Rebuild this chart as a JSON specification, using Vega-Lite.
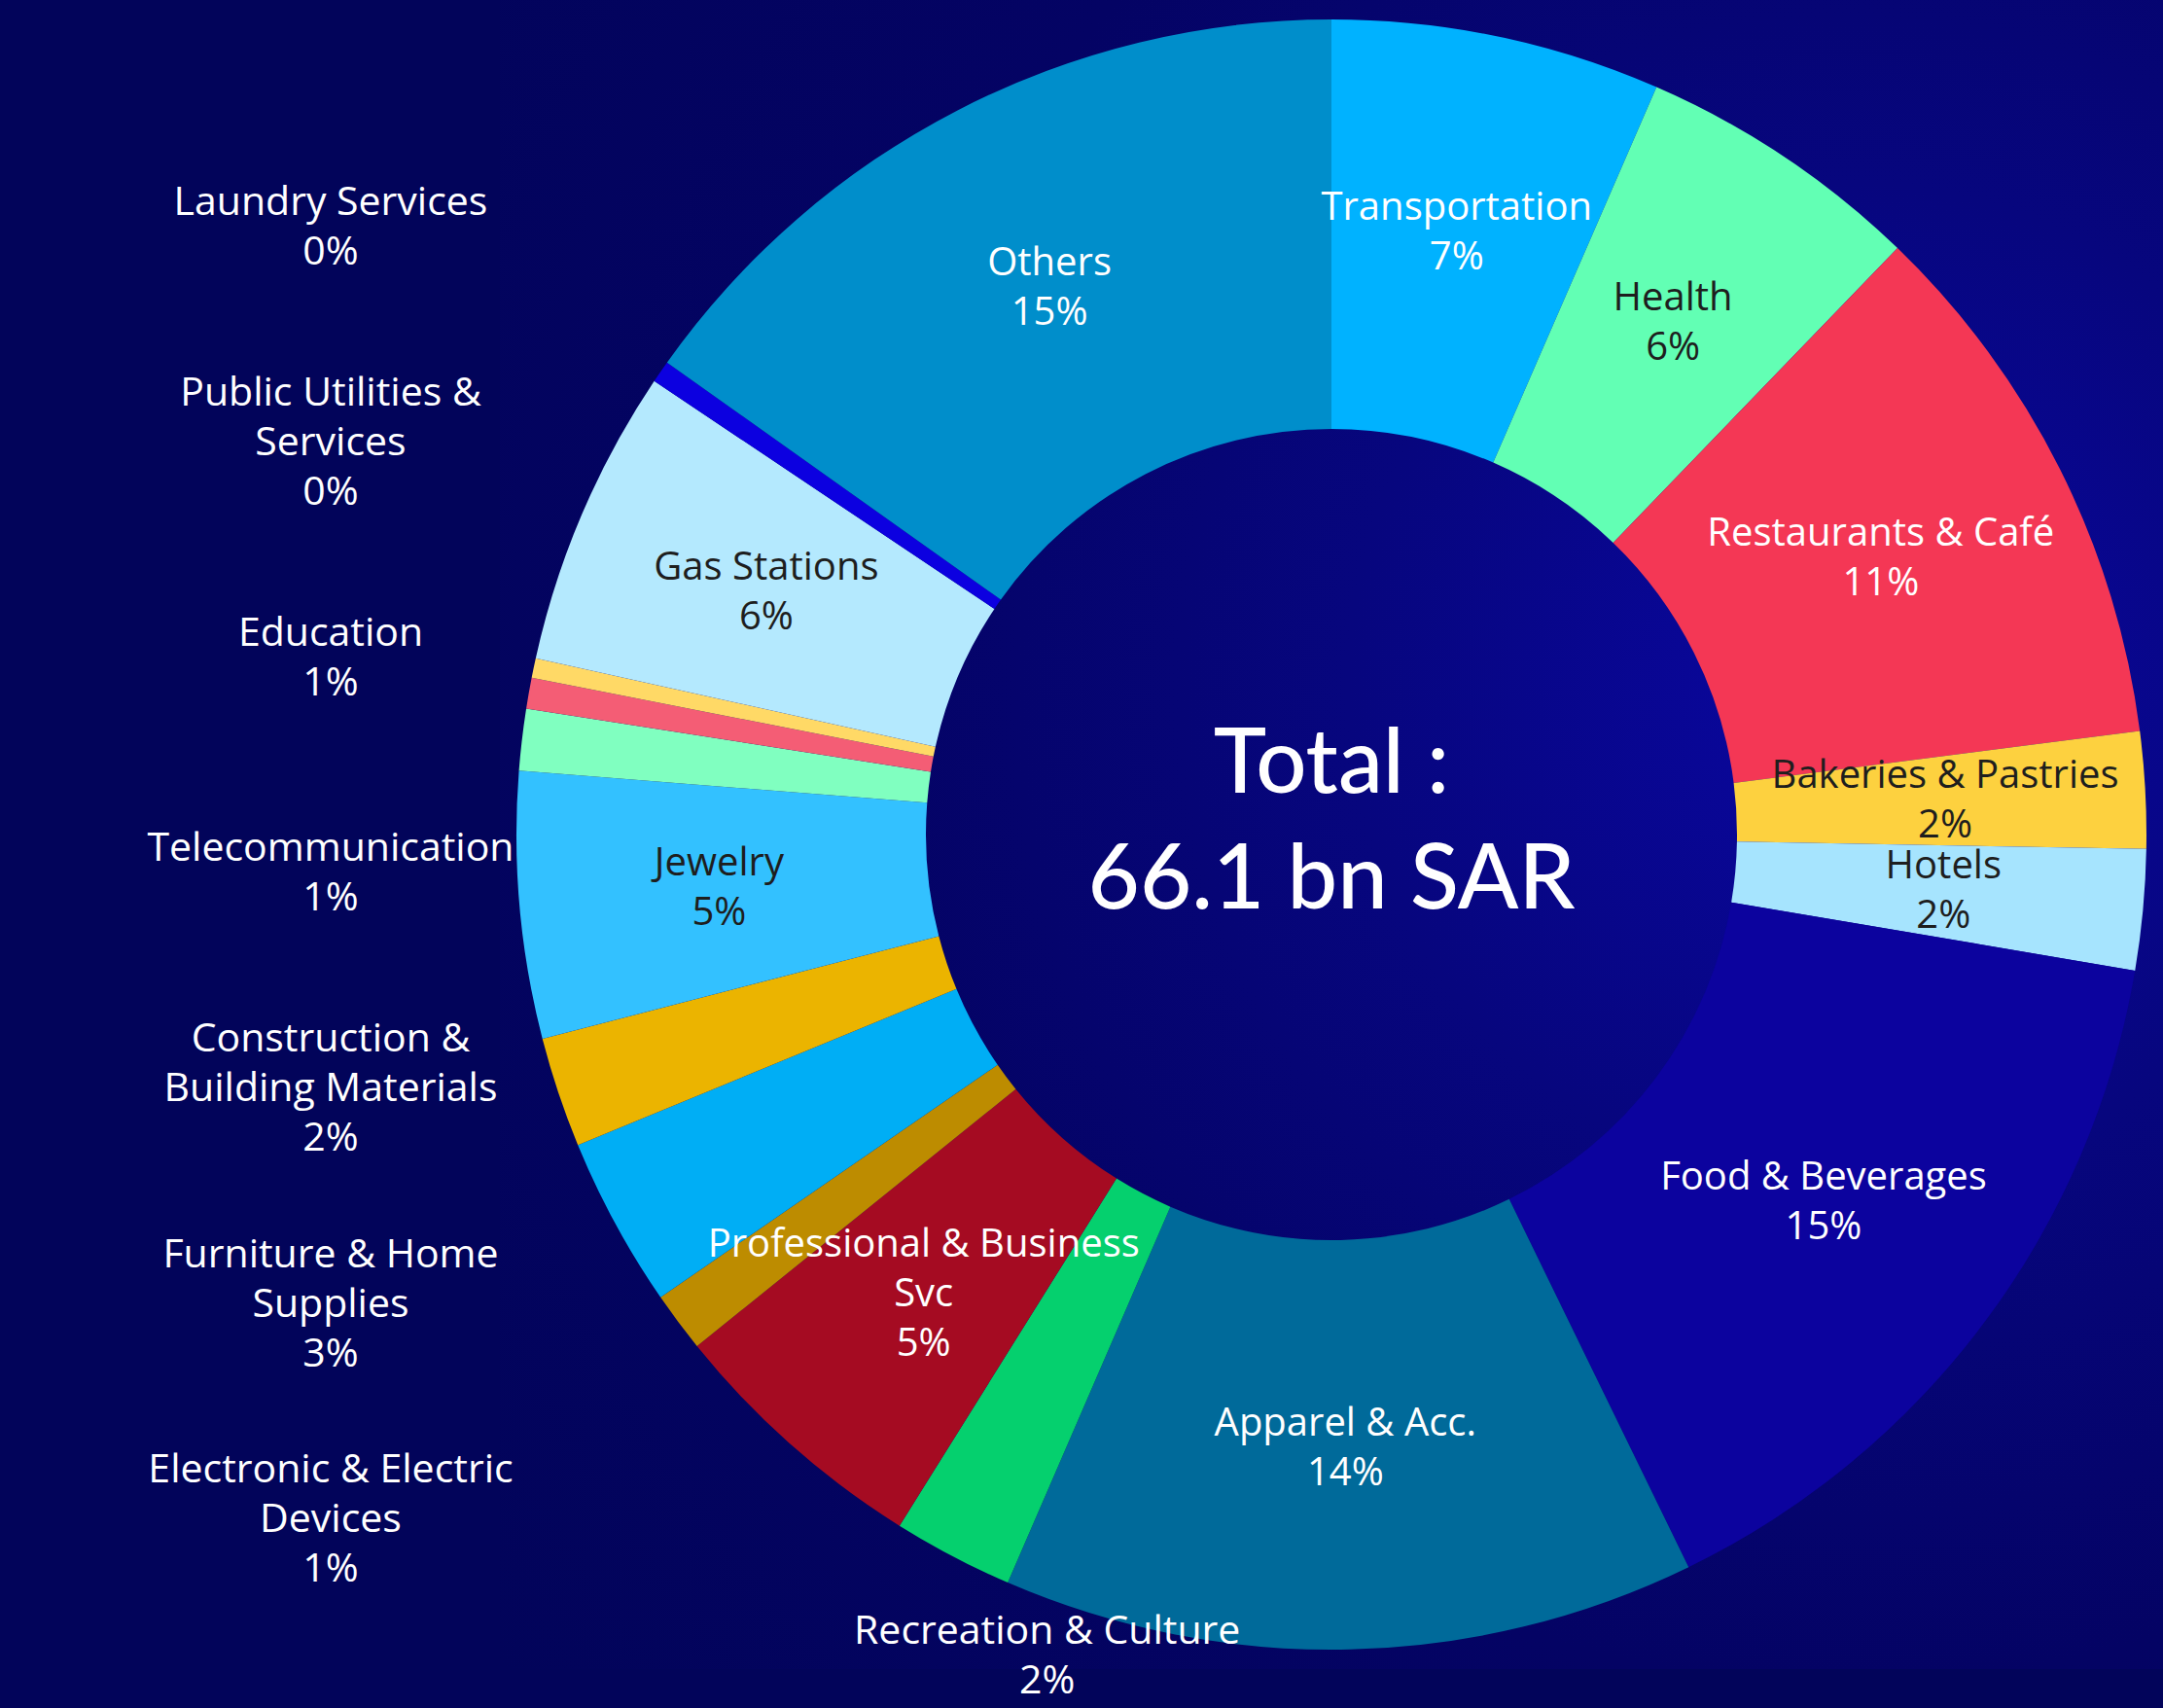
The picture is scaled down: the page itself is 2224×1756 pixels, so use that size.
{
  "$schema": "https://vega.github.io/schema/vega-lite/v6.json",
  "width": 1710,
  "height": 1716,
  "autosize": {"type": "none"},
  "padding": {"left": 514, "top": 0, "right": 0, "bottom": 40},
  "background": "#02045a",
  "view": {
    "stroke": null,
    "fill": {
      "gradient": "radial",
      "x1": 0.81, "y1": 0.41, "r1": 0,
      "x2": 0.81, "y2": 0.41, "r2": 1.0,
      "stops": [
        {"offset": 0, "color": "#0a07a0"},
        {"offset": 0.3, "color": "#07067e"},
        {"offset": 0.6, "color": "#040364"},
        {"offset": 1, "color": "#02045a"}
      ]
    }
  },
  "config": {"font": "Open Sans"},
  "datasets": {
    "sectors": [
      {"ord": 1, "name": "Transportation", "share": 6.53, "label": "Transportation\n7%"},
      {"ord": 2, "name": "Health", "share": 5.69, "label": "Health\n6%"},
      {"ord": 3, "name": "Restaurants & Café", "share": 10.75, "label": "Restaurants & Café\n11%"},
      {"ord": 4, "name": "Bakeries & Pastries", "share": 2.31, "label": "Bakeries & Pastries\n2%"},
      {"ord": 5, "name": "Hotels", "share": 2.39, "label": "Hotels\n2%"},
      {"ord": 6, "name": "Food & Beverages", "share": 15.11, "label": "Food & Beverages\n15%"},
      {"ord": 7, "name": "Apparel & Acc.", "share": 13.72, "label": "Apparel & Acc.\n14%"},
      {"ord": 8, "name": "Recreation & Culture", "share": 2.39, "label": "Recreation & Culture\n2%"},
      {"ord": 9, "name": "Professional & Business Svc", "share": 5.31, "label": "Professional & Business\nSvc\n5%"},
      {"ord": 10, "name": "Electronic & Electric Devices", "share": 1.19, "label": "Electronic & Electric\nDevices\n1%"},
      {"ord": 11, "name": "Furniture & Home Supplies", "share": 3.39, "label": "Furniture & Home\nSupplies\n3%"},
      {"ord": 12, "name": "Construction & Building Materials", "share": 2.19, "label": "Construction &\nBuilding Materials\n2%"},
      {"ord": 13, "name": "Jewelry", "share": 5.28, "label": "Jewelry\n5%"},
      {"ord": 14, "name": "Telecommunication", "share": 1.22, "label": "Telecommunication\n1%"},
      {"ord": 15, "name": "Education", "share": 0.61, "label": "Education\n1%"},
      {"ord": 16, "name": "Public Utilities & Services", "share": 0.39, "label": "Public Utilities &\nServices\n0%"},
      {"ord": 17, "name": "Gas Stations", "share": 5.92, "label": "Gas Stations\n6%"},
      {"ord": 18, "name": "Laundry Services", "share": 0.44, "label": "Laundry Services\n0%"},
      {"ord": 19, "name": "Others", "share": 15.17, "label": "Others\n15%"}
    ],
    "total": [{"label": "Total :\n66.1 bn SAR"}]
  },
  "layer": [
    {
      "data": {"name": "sectors"},
      "mark": {"type": "arc", "outerRadius": 838, "innerRadius": 417, "stroke": null},
      "encoding": {
        "theta": {"field": "share", "type": "quantitative", "stack": true},
        "order": {"field": "ord", "type": "quantitative"},
        "color": {
          "field": "name", "type": "nominal", "legend": null,
          "scale": {
            "domain": ["Transportation", "Health", "Restaurants & Café", "Bakeries & Pastries", "Hotels", "Food & Beverages", "Apparel & Acc.", "Recreation & Culture", "Professional & Business Svc", "Electronic & Electric Devices", "Furniture & Home Supplies", "Construction & Building Materials", "Jewelry", "Telecommunication", "Education", "Public Utilities & Services", "Gas Stations", "Laundry Services", "Others"],
            "range": ["#00b2ff", "#62ffb4", "#f43755", "#fdd13f", "#a6e4fe", "#0c039e", "#006a9a", "#05d06e", "#a50b22", "#bd8c00", "#00aef5", "#ebb400", "#33c1ff", "#80ffc0", "#f45d75", "#ffd966", "#b4e9fe", "#0c00e0", "#008ecb"]
          }
        }
      }
    },
    {
      "data": {"name": "sectors"},
      "mark": {"type": "text", "radius": 632, "fontSize": 40, "lineHeight": 51, "lineBreak": "\n", "align": "center", "baseline": "middle", "dy": {"expr": "-25.5 * (length(split(datum.label, '\\n')) - 1)"}},
      "encoding": {
        "theta": {"field": "share", "type": "quantitative", "stack": true},
        "order": {"field": "ord", "type": "quantitative"},
        "text": {
          "condition": {"test": "indexof(['Transportation','Health','Restaurants & Café','Bakeries & Pastries','Hotels','Food & Beverages','Apparel & Acc.','Professional & Business Svc','Jewelry','Gas Stations','Others'], datum.name) >= 0", "field": "label"},
          "value": ""
        },
        "color": {
          "condition": {"test": "indexof(['Health','Gas Stations','Jewelry','Bakeries & Pastries','Hotels'], datum.name) >= 0", "value": "#1e1e1e"},
          "value": "#ffffff"
        }
      }
    },
    {
      "data": {"name": "sectors"},
      "mark": {"type": "text", "radius": 960, "fontSize": 41, "lineHeight": 51, "lineBreak": "\n", "align": "center", "baseline": "middle", "color": "#ffffff", "dx": 154, "dy": -30},
      "encoding": {
        "theta": {"field": "share", "type": "quantitative", "stack": true},
        "order": {"field": "ord", "type": "quantitative"},
        "text": {
          "condition": {"test": "datum.name === 'Recreation & Culture'", "field": "label"},
          "value": ""
        }
      }
    },
    {
      "data": {"name": "sectors"},
      "transform": [
        {"filter": "indexof(['Laundry Services','Public Utilities & Services','Education','Telecommunication','Construction & Building Materials','Furniture & Home Supplies','Electronic & Electric Devices'], datum.name) >= 0"}
      ],
      "mark": {"type": "text", "fontSize": 41, "lineHeight": 51, "lineBreak": "\n", "align": "center", "baseline": "middle", "color": "#ffffff", "dy": {"expr": "-25.5 * (length(split(datum.label, '\\n')) - 1)"}},
      "encoding": {
        "y": {
          "field": "name", "type": "nominal", "axis": null,
          "scale": {"type": "point", "padding": 0, "domain": ["Laundry Services", "Public Utilities & Services", "Education", "Telecommunication", "Construction & Building Materials", "Furniture & Home Supplies", "Electronic & Electric Devices"], "range": [234, 1563]}
        },
        "x": {"value": -174},
        "text": {"field": "label"}
      }
    },
    {
      "data": {"name": "total"},
      "mark": {"type": "text", "font": "Lato", "fontSize": 92, "lineHeight": 119, "lineBreak": "\n", "align": "center", "baseline": "middle", "dy": -71, "color": "#ffffff", "fontWeight": 500},
      "encoding": {
        "text": {"field": "label"}
      }
    }
  ]
}
